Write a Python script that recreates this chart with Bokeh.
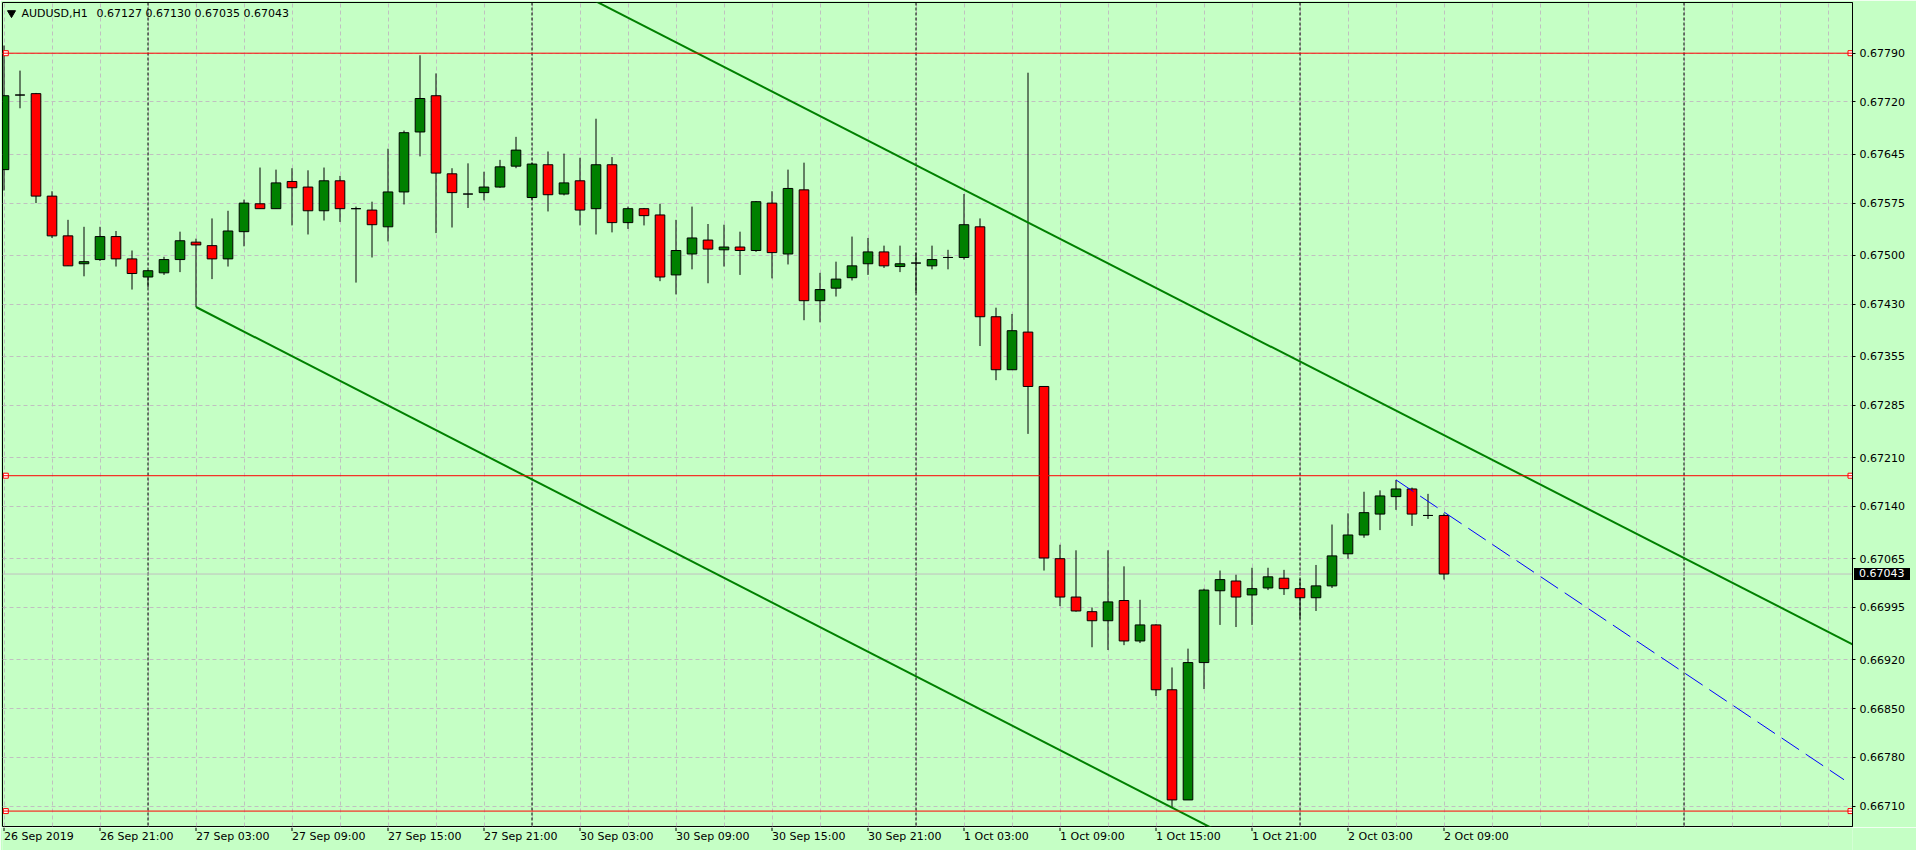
from bokeh.plotting import figure
from bokeh.layouts import column
from bokeh.models import FixedTicker, Span, Label, ColumnDataSource, PrintfTickFormatter, Range1d, Div
from bokeh.core.properties import value
from bokeh.embed import file_html
from bokeh.resources import INLINE

# ---------------- data (AUDUSD H1, bars from 26 Sep 2019 15:00) ----------------
opens = [0.67623, 0.67730, 0.67732, 0.67585, 0.67528, 0.67488, 0.67494, 0.67527, 0.67495, 0.67469,
         0.67475, 0.67494, 0.67519, 0.67514, 0.67495, 0.67534, 0.67574, 0.67567, 0.67606, 0.67598,
         0.67564, 0.67607, 0.67567, 0.67565, 0.67541, 0.67591, 0.67677, 0.67729, 0.67617, 0.67588,
         0.67590, 0.67598, 0.67628, 0.67583, 0.67630, 0.67588, 0.67607, 0.67567, 0.67630, 0.67547,
         0.67567, 0.67558, 0.67472, 0.67502, 0.67522, 0.67508, 0.67512, 0.67507, 0.67575, 0.67502,
         0.67594, 0.67435, 0.67453, 0.67468, 0.67488, 0.67505, 0.67484, 0.67489, 0.67485, 0.67497,
         0.67497, 0.67541, 0.67412, 0.67336, 0.67390, 0.67312, 0.67065, 0.67010, 0.66989, 0.66976,
         0.67005, 0.66947, 0.66970, 0.66877, 0.66719, 0.66916, 0.67019, 0.67033, 0.67013, 0.67023,
         0.67037, 0.67022, 0.67009, 0.67026, 0.67072, 0.67099, 0.67129, 0.67154, 0.67165, 0.67127,
         0.67127]
highs = [0.67801, 0.67765, 0.67733, 0.67592, 0.67551, 0.67541, 0.67541, 0.67535, 0.67507, 0.67479,
         0.67498, 0.67534, 0.67524, 0.67553, 0.67564, 0.67580, 0.67626, 0.67623, 0.67625, 0.67622,
         0.67626, 0.67614, 0.67570, 0.67577, 0.67653, 0.67679, 0.67787, 0.67761, 0.67625, 0.67632,
         0.67620, 0.67637, 0.67670, 0.67633, 0.67649, 0.67646, 0.67640, 0.67696, 0.67641, 0.67570,
         0.67568, 0.67574, 0.67551, 0.67570, 0.67545, 0.67544, 0.67534, 0.67578, 0.67592, 0.67623,
         0.67633, 0.67475, 0.67491, 0.67527, 0.67525, 0.67514, 0.67514, 0.67504, 0.67514, 0.67508,
         0.67588, 0.67553, 0.67425, 0.67416, 0.67762, 0.67312, 0.67085, 0.67077, 0.66995, 0.67077,
         0.67054, 0.67006, 0.66971, 0.66909, 0.66936, 0.67022, 0.67048, 0.67042, 0.67052, 0.67052,
         0.67049, 0.67036, 0.67056, 0.67114, 0.67130, 0.67161, 0.67163, 0.67178, 0.67167, 0.67158,
         0.67130]
lows = [0.67593, 0.67711, 0.67575, 0.67525, 0.67485, 0.67470, 0.67492, 0.67484, 0.67451, 0.67454,
        0.67472, 0.67476, 0.67426, 0.67466, 0.67484, 0.67513, 0.67567, 0.67567, 0.67543, 0.67530,
        0.67550, 0.67548, 0.67461, 0.67497, 0.67520, 0.67573, 0.67642, 0.67532, 0.67540, 0.67568,
        0.67579, 0.67597, 0.67625, 0.67580, 0.67563, 0.67586, 0.67543, 0.67530, 0.67533, 0.67538,
        0.67543, 0.67463, 0.67444, 0.67480, 0.67460, 0.67484, 0.67472, 0.67505, 0.67467, 0.67487,
        0.67407, 0.67404, 0.67441, 0.67464, 0.67472, 0.67482, 0.67476, 0.67446, 0.67480, 0.67480,
        0.67494, 0.67370, 0.67321, 0.67336, 0.67244, 0.67048, 0.66997, 0.66989, 0.66938, 0.66934,
        0.66941, 0.66944, 0.66868, 0.66709, 0.66719, 0.66878, 0.66970, 0.66967, 0.66970, 0.67020,
        0.67013, 0.66979, 0.66990, 0.67023, 0.67065, 0.67095, 0.67106, 0.67135, 0.67112, 0.67122,
        0.67035]
closes = [0.67729, 0.67730, 0.67585, 0.67528, 0.67485, 0.67491, 0.67527, 0.67495, 0.67474, 0.67478,
          0.67494, 0.67521, 0.67515, 0.67495, 0.67535, 0.67575, 0.67567, 0.67604, 0.67597, 0.67564,
          0.67607, 0.67567, 0.67567, 0.67544, 0.67591, 0.67676, 0.67725, 0.67618, 0.67590, 0.67588,
          0.67598, 0.67627, 0.67651, 0.67631, 0.67587, 0.67604, 0.67565, 0.67630, 0.67547, 0.67567,
          0.67557, 0.67469, 0.67507, 0.67525, 0.67509, 0.67512, 0.67507, 0.67577, 0.67504, 0.67596,
          0.67435, 0.67451, 0.67466, 0.67485, 0.67505, 0.67485, 0.67488, 0.67489, 0.67494, 0.67497,
          0.67544, 0.67412, 0.67336, 0.67392, 0.67312, 0.67066, 0.67010, 0.66990, 0.66976, 0.67003,
          0.66947, 0.66970, 0.66877, 0.66719, 0.66916, 0.67020, 0.67035, 0.67010, 0.67022, 0.67039,
          0.67022, 0.67009, 0.67026, 0.67069, 0.67099, 0.67131, 0.67155, 0.67165, 0.67129, 0.67127,
          0.67043]

time_label_bars = [0, 6, 12, 18, 24, 30, 36, 42, 48, 54, 60, 66, 72, 78, 84, 90]
time_labels = ["26 Sep 2019", "26 Sep 21:00", "27 Sep 03:00", "27 Sep 09:00", "27 Sep 15:00",
               "27 Sep 21:00", "30 Sep 03:00", "30 Sep 09:00", "30 Sep 15:00", "30 Sep 21:00",
               "1 Oct 03:00", "1 Oct 09:00", "1 Oct 15:00", "1 Oct 21:00", "2 Oct 03:00", "2 Oct 09:00"]
day_separator_bars = [9, 33, 57, 81, 105]
grid_bars = [0, 3, 6, 9, 12, 15, 18, 21, 24, 27, 30, 33, 36, 39, 42, 45, 48, 51, 54, 57, 60, 63,
             66, 69, 72, 75, 78, 81, 84, 87, 90, 93, 96, 99, 102, 105, 108, 111, 114]
price_ticks = [0.67790, 0.67720, 0.67645, 0.67575, 0.67500, 0.67430, 0.67355, 0.67285,
               0.67210, 0.67140, 0.67065, 0.66995, 0.66920, 0.66850, 0.66780, 0.66710]
red_levels = [0.67790, 0.67184, 0.66703]
current_price = 0.67043
symbol_name = "AUDUSD,H1"
symbol_ohlc = "0.67127 0.67130 0.67035 0.67043"

upper_channel_bars = [59, 90]
upper_channel_prices = [0.67606, 0.67242]
lower_channel_bars = [12, 73]
lower_channel_prices = [0.67426, 0.66708]
blue_line_bars = [87, 115]
blue_line_prices = [0.67178, 0.66748]

# ---------------- style / layout ----------------
BG = "#C5FFC5"
BULL = "#008000"
BEAR = "#FF0000"
GRID = "#C0C0C0"
FONT = "DejaVu Sans"
LEFT, TOP = 2, 2
FW, FH = 1850, 824
RIGHT = 64
X0 = -0.09375
X1 = X0 + FW / 16.0
Y0, Y1 = 0.666809, 0.678627
PXX = FW / (X1 - X0)
PXY = FH / (Y1 - Y0)

p = figure(frame_width=FW, frame_height=FH,
           x_range=Range1d(X0, X1), y_range=Range1d(Y0, Y1),
           y_axis_location="right", output_backend="svg", toolbar_location=None,
           min_border_left=LEFT, min_border_top=TOP, min_border_right=RIGHT, min_border_bottom=1,
           background_fill_color=BG, border_fill_color=BG,
           outline_line_color="black", outline_line_width=1)

# grid
p.xgrid.ticker = FixedTicker(ticks=grid_bars)
p.ygrid.ticker = FixedTicker(ticks=price_ticks)
for g in (p.xgrid, p.ygrid):
    g.grid_line_color = GRID
    g.grid_line_dash = "4 3"
    g.grid_line_width = 1

# price axis
ya = p.yaxis[0]
ya.ticker = FixedTicker(ticks=price_ticks)
ya.formatter = PrintfTickFormatter(format="%.5f")
ya.major_label_text_font = FONT
ya.major_label_text_font_size = "11px"
ya.major_label_text_color = "black"
ya.major_tick_out = 3
ya.major_tick_in = 0
ya.minor_tick_out = 0
ya.minor_tick_in = 0
ya.major_label_standoff = 4
ya.axis_line_color = "black"
ya.major_tick_line_color = "black"
p.xaxis.visible = False

# day separators and current price line (behind candles)
for b in day_separator_bars:
    p.add_layout(Span(location=b, dimension="height", line_color="black",
                      line_dash="3 2", line_width=1, level="underlay"))
p.add_layout(Span(location=current_price, dimension="width", line_color=GRID,
                  line_width=1, level="underlay"))

# candles
bars = list(range(len(opens)))
src = ColumnDataSource(dict(
    x=bars, o=opens, h=highs, l=lows, c=closes,
    top=[max(o, c) for o, c in zip(opens, closes)],
    bottom=[min(o, c) for o, c in zip(opens, closes)],
    fill=[BULL if c > o else (BEAR if c < o else "black") for o, c in zip(opens, closes)],
))
p.segment(x0="x", y0="l", x1="x", y1="h", source=src, line_color="black", line_width=1)
p.vbar(x="x", width=0.6, top="top", bottom="bottom", source=src,
       fill_color="fill", line_color="black", line_width=1)

# channel lines
def through(xs, ys, xa_, xb_):
    k = (ys[1] - ys[0]) / (xs[1] - xs[0])
    return [xa_, xb_], [ys[0] + k * (xa_ - xs[0]), ys[0] + k * (xb_ - xs[0])]

ux, uy = through(upper_channel_bars, upper_channel_prices, X0, X1)
p.line(ux, uy, line_color=BULL, line_width=2)
lx, ly = through(lower_channel_bars, lower_channel_prices, lower_channel_bars[0], X1)
p.line(lx, ly, line_color=BULL, line_width=2)
p.line(blue_line_bars, blue_line_prices, line_color="#0000FF", line_width=1, line_dash="21 8")

# horizontal red levels with end markers
for lv in red_levels:
    p.add_layout(Span(location=lv, dimension="width", line_color="red", line_width=1))
left_x = X0 + 3.3 / PXX
right_x = X1 - 2.0 / PXX
p.scatter(x=[left_x] * len(red_levels) + [right_x] * len(red_levels), y=red_levels * 2,
          marker="square", size=5, fill_color="white", line_color="red", line_width=1)

# symbol header
p.scatter(x=[X0 + 9.0 / PXX], y=[Y1 - 10.5 / PXY], marker="inverted_triangle", size=8,
          fill_color="black", line_color="black")
p.add_layout(Label(x=X0 + 19.0 / PXX, y=Y1 - 10.7 / PXY, text=symbol_name,
                   text_align="left", text_baseline="middle", text_font=FONT,
                   text_font_size="11px", text_color="black"))
p.add_layout(Label(x=X0 + 94.0 / PXX, y=Y1 - 10.7 / PXY, text=symbol_ohlc,
                   text_align="left", text_baseline="middle", text_font=FONT,
                   text_font_size="11px", text_color="black"))

# ---------------- time scale strip (shares the bar scale) ----------------
t = figure(frame_width=FW, frame_height=23, x_range=p.x_range, y_range=Range1d(23, 0),
           output_backend="svg", toolbar_location=None,
           min_border_left=LEFT, min_border_top=0, min_border_right=RIGHT, min_border_bottom=0,
           background_fill_color=BG, border_fill_color=BG, outline_line_color=None)
t.axis.visible = False
t.grid.visible = False
t.segment(x0=time_label_bars, y0=[0] * len(time_label_bars), x1=time_label_bars,
          y1=[3.5] * len(time_label_bars), line_color="black", line_width=1)
t.text(x=time_label_bars, y=[2.5] * len(time_label_bars), text=time_labels,
       text_align="left", text_baseline="top", text_font=value(FONT),
       text_font_size="11px", text_color="black")

# current price tag on the price scale
y_tag = TOP + (Y1 - current_price) * PXY - 6
tag = Div(text="%.5f" % current_price,
          styles={"position": "absolute", "left": "%dpx" % (LEFT + FW + 2),
                  "top": "%dpx" % round(y_tag),
                  "background-color": "black", "color": "white",
                  "font-family": "'DejaVu Sans'", "font-size": "11px", "line-height": "12px",
                  "padding": "0px 5px", "margin": "0px"})

layout = column(p, t, tag, spacing=0)
open("out.html", "w").write(file_html(layout, INLINE))
